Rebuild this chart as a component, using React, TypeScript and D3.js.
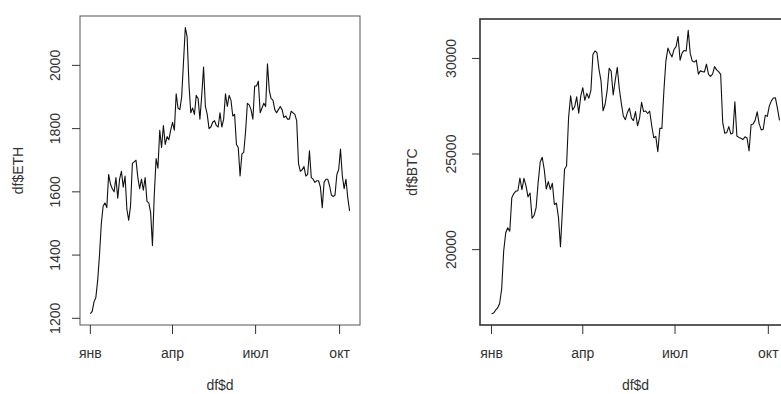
import * as d3 from "d3";

// every second day, 1 Jan 2023 .. 12 Oct 2023
const startDate = new Date(2023, 0, 1);
const endDate = new Date(2023, 9, 13);
const dates = d3.timeDay.range(startDate, endDate, 2);

const ethPrice = [
  // Jan
  1215, 1222, 1252, 1266, 1320, 1400, 1500, 1555, 1565, 1550, 1655, 1625, 1610, 1600, 1645, 1580,
  // Feb
  1640, 1665, 1615, 1650, 1545, 1510, 1555, 1690, 1695, 1700, 1645, 1610, 1640, 1605,
  // Mar
  1645, 1570, 1565, 1535, 1430, 1590, 1705, 1675, 1795, 1740, 1810, 1750, 1775, 1765, 1795,
  // Apr
  1820, 1795, 1910, 1865, 1860, 1900, 2010, 2120, 2090, 1940, 1850, 1865, 1845, 1905, 1895,
  // May
  1830, 1905, 1995, 1870, 1845, 1800, 1805, 1820, 1825, 1810, 1805, 1850, 1805, 1830, 1910, 1870,
  // Jun
  1905, 1890, 1840, 1845, 1750, 1740, 1650, 1720, 1725, 1790, 1880, 1875, 1860, 1830, 1935,
  // Jul
  1935, 1950, 1850, 1865, 1880, 1870, 2005, 1920, 1895, 1890, 1860, 1850, 1860, 1870, 1860,
  // Aug
  1835, 1840, 1830, 1830, 1855, 1850, 1845, 1825, 1690, 1665, 1670, 1680, 1650, 1655, 1730, 1645,
  // Sep
  1640, 1630, 1635, 1635, 1615, 1550, 1630, 1640, 1640, 1620, 1590, 1585, 1590, 1655, 1670,
  // Oct
  1735, 1650, 1610, 1640, 1580, 1540,
];

const btcPrice = [
  // Jan
  16650, 16680, 16830, 16950, 17180, 17940, 19930, 20880, 21140, 20960, 22710, 22930, 23060, 23080, 23740, 23140,
  // Feb
  23730, 23330, 22760, 22960, 21640, 21790, 22200, 23520, 24570, 24830, 24190, 23170, 23560, 23150,
  // Mar
  23470, 22360, 22430, 21700, 20150, 22150, 24200, 24370, 26900, 28040, 27300, 27470, 27990, 27140, 28030,
  // Apr
  28470, 27810, 28170, 27920, 28330, 30210, 30390, 30300, 29430, 28820, 27260, 27590, 28300, 29480, 29340,
  // May
  28090, 28850, 29540, 28430, 27660, 26990, 26800, 27170, 27400, 26880, 26750, 27220, 26480, 26870, 27700, 27220,
  // Jun
  27250, 27120, 27240, 26480, 25850, 25920, 25120, 26340, 26340, 28310, 29890, 30540, 30270, 30080, 30470,
  // Jul
  30620, 31150, 29910, 30290, 30420, 30390, 31470, 30250, 29860, 29810, 29910, 29180, 29350, 29310, 29290,
  // Aug
  29700, 29170, 29060, 29180, 29570, 29400, 29310, 29170, 26660, 26090, 26120, 26430, 26050, 26100, 27730, 25940,
  // Sep
  25870, 25820, 25760, 25900, 25840, 25160, 26530, 26570, 26760, 27210, 26580, 26260, 26300, 27030, 26970,
  // Oct
  27520, 27780, 27930, 27940, 27390, 26760,
];

const monthTicks = [new Date(2023, 0, 1), new Date(2023, 3, 1), new Date(2023, 6, 1), new Date(2023, 9, 1)];
const monthLabels = ["янв", "апр", "июл", "окт"];
const ethTicks = [1200, 1400, 1600, 1800, 2000];
const btcTicks = [20000, 25000, 30000];

const font = "'Liberation Sans', Arial, Helvetica, sans-serif";

// R-style range: data extent plus 4% on each side
function padded(lo: number, hi: number): [number, number] {
  const p = (hi - lo) * 0.04;
  return [lo - p, hi + p];
}

type PanelProps = {
  values: number[];
  yTicks: number[];
  yLabel: string;
  left: number;
  right: number;
  top: number;
  bottom: number;
  tickLabelX: number;
  titleX: number;
  boxWidth: number;
  boxColor: string;
};

function Panel(p: PanelProps) {
  const t0 = dates[0].getTime();
  const t1 = dates[dates.length - 1].getTime();
  const x = d3.scaleTime().domain(padded(t0, t1).map((t) => new Date(t))).range([p.left, p.right]);
  const y = d3.scaleLinear().domain(padded(d3.min(p.values)!, d3.max(p.values)!)).range([p.bottom, p.top]);

  const line = d3
    .line<number>()
    .x((_, i) => x(dates[i]))
    .y((d) => y(d));

  const cx = (p.left + p.right) / 2;
  const cy = (p.top + p.bottom) / 2;

  return (
    <g fontFamily={font} fontSize={14} fill="#333">
      <path d={line(p.values) ?? ""} fill="none" stroke="#111" strokeWidth={1.1} strokeLinejoin="round" />
      <rect
        x={p.left}
        y={p.top}
        width={p.right - p.left}
        height={p.bottom - p.top}
        fill="none"
        stroke={p.boxColor}
        strokeWidth={p.boxWidth}
      />
      {monthTicks.map((d, i) => (
        <g key={i}>
          <line x1={x(d)} x2={x(d)} y1={p.bottom} y2={p.bottom + 9} stroke="#333" />
          <text x={x(d)} y={353} textAnchor="middle" dominantBaseline="central">
            {monthLabels[i]}
          </text>
        </g>
      ))}
      {p.yTicks.map((v) => (
        <g key={v}>
          <line x1={p.left - 8} x2={p.left} y1={y(v)} y2={y(v)} stroke="#333" />
          <text
            transform={`translate(${p.tickLabelX},${y(v)}) rotate(-90)`}
            textAnchor="middle"
            dominantBaseline="central"
          >
            {v}
          </text>
        </g>
      ))}
      <text
        transform={`translate(${p.titleX},${cy}) rotate(-90)`}
        textAnchor="middle"
        dominantBaseline="central"
      >
        {p.yLabel}
      </text>
      <text x={cx} y={385} textAnchor="middle" dominantBaseline="central">
        df$d
      </text>
    </g>
  );
}

export default function App() {
  return (
    <svg
      width={781}
      height={394}
      style={{ position: "absolute", left: 0, top: 0, background: "#fff" }}
    >
      <rect width={781} height={394} fill="#fff" />
      <Panel
        values={ethPrice}
        yTicks={ethTicks}
        yLabel="df$ETH"
        left={80}
        right={360}
        top={16}
        bottom={325}
        tickLabelX={55}
        titleX={18}
        boxWidth={1}
        boxColor="#555"
      />
      <Panel
        values={btcPrice}
        yTicks={btcTicks}
        yLabel="df$BTC"
        left={480}
        right={791}
        top={19}
        bottom={325}
        tickLabelX={451}
        titleX={412}
        boxWidth={1.6}
        boxColor="#333"
      />
    </svg>
  );
}
